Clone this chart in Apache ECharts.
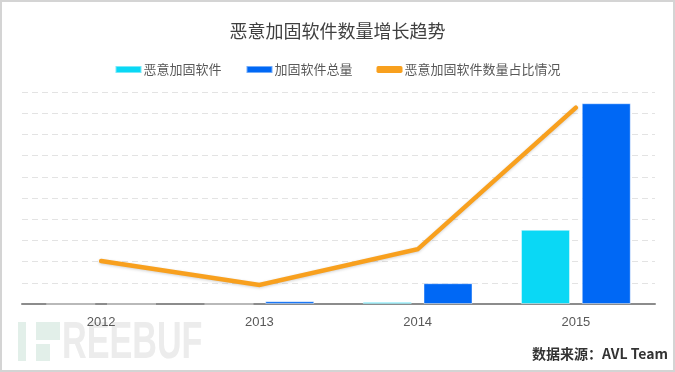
<!DOCTYPE html>
<html>
<head>
<meta charset="utf-8">
<script src="https://cdn.jsdelivr.net/npm/echarts@6/dist/echarts.min.js"></script>
<style>
html,body{margin:0;padding:0;background:#fff;}
#c{width:675px;height:372px;}
</style>
</head>
<body>
<div id="c"></div>
<script>
var categories = ['2012', '2013', '2014', '2015'];
var maliciousPacked = [0, 0, 0.1, 3.5];
var totalPacked = [0, 0.13, 0.98, 9.47];
var maliciousShare = [20.3, 9.0, 25.8, 92.6];
var seriesNames = ['恶意加固软件', '加固软件总量', '恶意加固软件数量占比情况'];
var titleText = '恶意加固软件数量增长趋势';
var sourceText = '数据来源：AVL Team';

var chart = echarts.init(document.getElementById('c'), null, {renderer: 'canvas'});
chart.setOption({
  animation: false,
  backgroundColor: '#fff',
  title: {
    text: titleText,
    left: 'center',
    top: 17,
    textStyle: {fontSize: 18, fontWeight: 'normal', color: '#404040', fontFamily: 'Noto Sans CJK SC'}
  },
  legend: {
    top: 58,
    left: 'center',
    itemWidth: 26,
    itemHeight: 7,
    itemGap: 24,
    textStyle: {fontSize: 13, color: '#595959', fontFamily: 'Noto Sans CJK SC', padding: [0, 0, 0, -3]},
    data: [
      {name: seriesNames[0], icon: 'rect'},
      {name: seriesNames[1], icon: 'rect'},
      {name: seriesNames[2], icon: 'roundRect'}
    ]
  },
  grid: {left: 22, right: 20, top: 92, bottom: 68, containLabel: false},
  xAxis: {
    type: 'category',
    data: categories,
    axisLine: {lineStyle: {color: '#8c8c8c', width: 2}},
    axisTick: {show: false},
    axisLabel: {fontSize: 13, color: '#595959', margin: 12, fontFamily: 'Liberation Sans'}
  },
  yAxis: [{
    type: 'value',
    min: 0, max: 10, interval: 1,
    axisLabel: {show: false},
    axisLine: {show: false},
    axisTick: {show: false},
    splitLine: {lineStyle: {color: '#e3e3e3', type: [6, 4], width: 1}}
  }, {
    type: 'value',
    min: 0, max: 100,
    show: false,
    splitLine: {show: false}
  }],
  series: [{
    name: seriesNames[0],
    type: 'bar',
    data: maliciousPacked,
    barWidth: 49,
    barGap: '24%',
    itemStyle: {color: '#0ad8f5', borderColor: 'rgba(255,255,255,0.45)', borderWidth: 1}
  }, {
    name: seriesNames[1],
    type: 'bar',
    data: totalPacked,
    barWidth: 49,
    itemStyle: {color: '#0068f5', borderColor: 'rgba(255,255,255,0.45)', borderWidth: 1}
  }, {
    name: seriesNames[2],
    type: 'line',
    yAxisIndex: 1,
    data: maliciousShare,
    showSymbol: false,
    symbol: 'none',
    lineStyle: {color: '#f8a01e', width: 4.5, cap: 'round', join: 'miter',
      shadowColor: 'rgba(0,0,0,0.18)', shadowBlur: 3, shadowOffsetY: 1},
    itemStyle: {color: '#f8a01e'}
  }],
  graphic: [
    {type: 'rect', shape: {x: 18, y: 322, width: 8, height: 39}, style: {fill: '#e2efe9'}, silent: true, z: -1},
    {type: 'rect', shape: {x: 36, y: 322, width: 24, height: 18}, style: {fill: '#e2efe9'}, silent: true, z: -1},
    {type: 'rect', shape: {x: 36, y: 344, width: 14, height: 17}, style: {fill: '#e2efe9'}, silent: true, z: -1},
    {type: 'text', x: 62, y: 369, scaleX: 0.67, originX: 0, originY: 0,
      style: {text: 'REEBUF', font: 'bold 51px "Liberation Sans"', fill: '#ececec', verticalAlign: 'bottom', align: 'left'}, silent: true, z: -1},
    {type: 'text', right: 7, top: 347,
      style: {text: sourceText, font: 'bold 14px "Noto Sans CJK SC"', fill: '#333'}},
    {type: 'rect', shape: {x: 1, y: 1, width: 673, height: 370}, style: {fill: 'none', stroke: '#d4d4d4', lineWidth: 2}, silent: true}
  ]
});
</script>
</body>
</html>
